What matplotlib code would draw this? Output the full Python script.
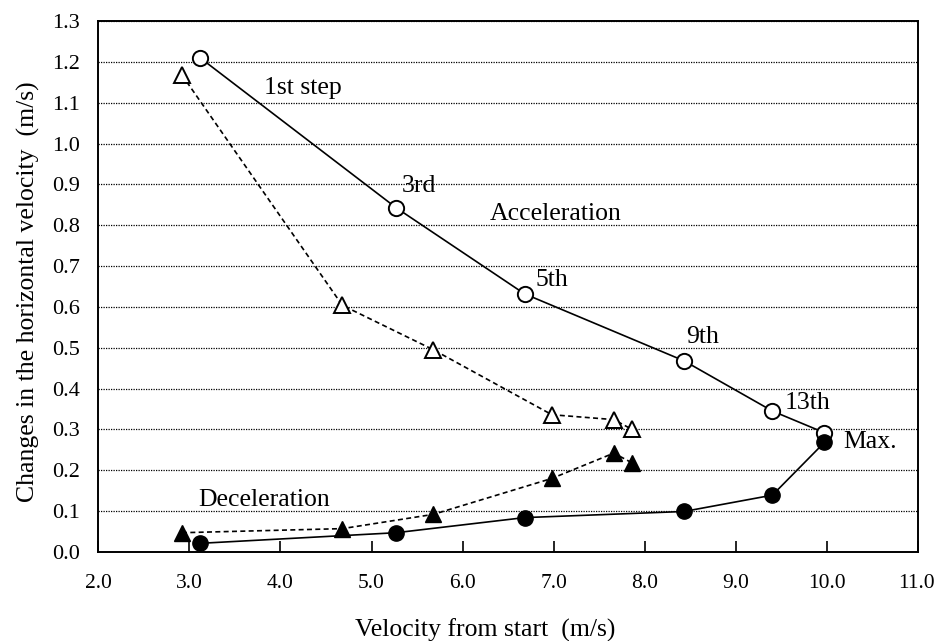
import matplotlib.pyplot as plt
import matplotlib.transforms as mtransforms
import numpy as np

# Step velocities (m/s) and changes in horizontal velocity (m/s)
circle_x = [3.12, 5.27, 6.68, 8.43, 9.40, 9.97]
accel_circle = [1.21, 0.843, 0.632, 0.468, 0.345, 0.292]
decel_circle = [0.021, 0.047, 0.084, 0.099, 0.139, 0.268]

tri_x = [2.92, 4.68, 5.68, 6.98, 7.66, 7.86]
accel_tri = [1.168, 0.604, 0.495, 0.336, 0.324, 0.300]
decel_tri = [0.047, 0.057, 0.092, 0.180, 0.242, 0.218]

step_labels = ["1st step", "3rd", "5th", "9th", "13th", "Max."]
label_pos = [(4.25, 1.137), (5.52, 0.896), (6.98, 0.665),
             (8.63, 0.526), (9.79, 0.365), (10.47, 0.27)]

plt.rcParams['font.family'] = ['Liberation Serif', 'DejaVu Serif']

fig = plt.figure(figsize=(9.35, 6.41), dpi=100)
ax = fig.add_axes([0.105, 0.139, 0.877, 0.828])

ax.yaxis.grid(True, linestyle=(0, (1, 1)), color='black', linewidth=0.9)
ax.set_axisbelow(True)

lw = 1.2
ax.plot(circle_x, accel_circle, '-', color='black', lw=lw, marker='o', ms=11,
        mfc='white', mec='black', mew=1.4, zorder=3)
ax.plot(circle_x, decel_circle, '-', color='black', lw=lw, marker='o', ms=11,
        mfc='black', mec='black', zorder=3)
ax.plot(tri_x, accel_tri, color='black', lw=lw, linestyle=(0, (3, 2)), marker='^',
        ms=11, mfc='white', mec='black', mew=1.4, zorder=3)
ax.plot(tri_x, decel_tri, color='black', lw=lw, linestyle=(0, (3, 2)), marker='^',
        ms=11, mfc='black', mec='black', zorder=3)

for txt, (x, y) in zip(step_labels, label_pos):
    ax.text(x, y, txt, fontsize=18.5, ha='center', va='center')
ax.text(7.02, 0.828, "Acceleration", fontsize=18.5, ha='center', va='center')
ax.text(3.82, 0.127, "Deceleration", fontsize=18.5, ha='center', va='center')

ax.set_xlim(2.0, 11.0)
ax.set_ylim(0.0, 1.3)
ax.set_xticks(np.arange(2.0, 11.01, 1.0))
ax.set_yticks(np.arange(0.0, 1.301, 0.1))
ax.xaxis.set_major_formatter(plt.FormatStrFormatter('%.1f'))
ax.yaxis.set_major_formatter(plt.FormatStrFormatter('%.1f'))
ax.tick_params(axis='x', direction='in', length=8, width=1.2, labelsize=15.5, pad=16)
ax.tick_params(axis='y', direction='in', length=0, labelsize=16, pad=13)

# keep the last x tick label inside the figure edge
last = ax.xaxis.get_major_ticks()[-1].label1
last.set_horizontalalignment('right')
last.set_transform(last.get_transform() +
                   mtransforms.ScaledTranslation(17 / 100, 0, fig.dpi_scale_trans))

for sp in ax.spines.values():
    sp.set_linewidth(1.4)

ax.set_xlabel("Velocity from start  (m/s)", fontsize=18.5)
ax.set_ylabel("Changes in the horizontal velocity  (m/s)", fontsize=18.5)
ax.xaxis.set_label_coords(0.472, -0.125)
ax.yaxis.set_label_coords(-0.071, 0.49)

fig.savefig("out.png", dpi=100)
